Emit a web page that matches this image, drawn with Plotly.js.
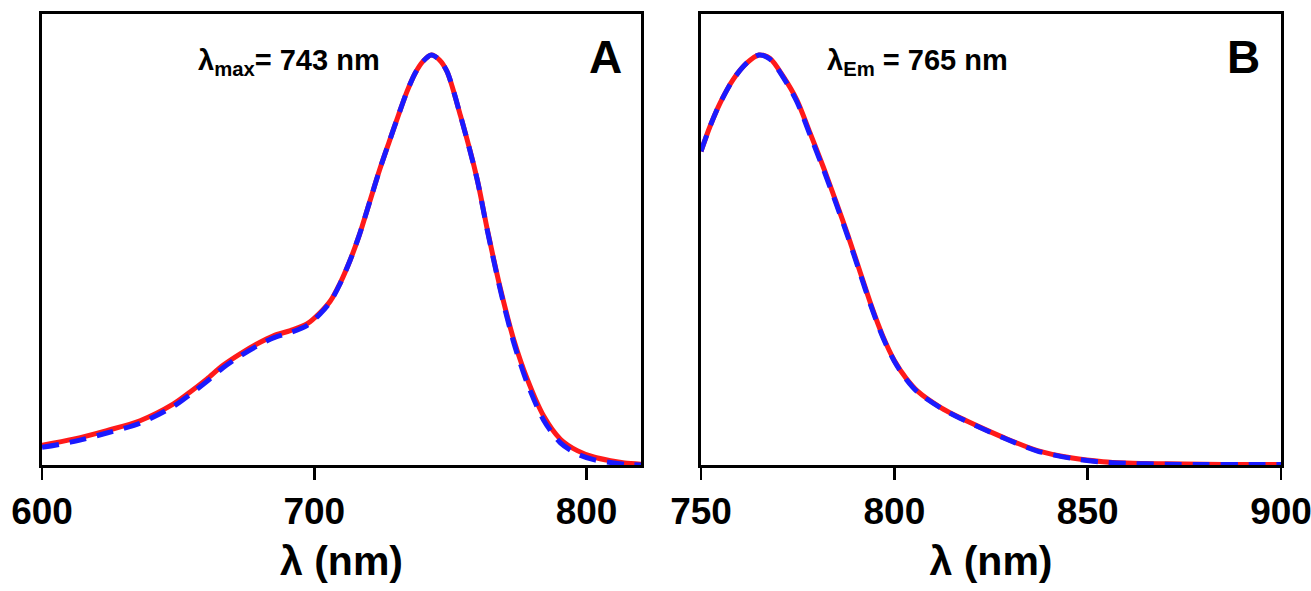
<!DOCTYPE html>
<html>
<head>
<meta charset="utf-8">
<script src="https://cdn.plot.ly/plotly-3.0.1.min.js"></script>
<style>html,body{margin:0;padding:0;background:#fff;}#chart{width:1311px;height:591px;}</style>
</head>
<body>
<div id="chart"></div>
<script>
// Panel A: absorption (normalized)
const absWavelength = [600, 611.5, 623.8, 636, 648.3, 654.4, 660.6, 666.5, 672.8, 678.9, 685, 691.2, 697.3, 702.2, 705.9, 709.6, 713.2, 716.5, 720.5, 724, 727.6, 731, 734, 737, 740, 743, 746, 748.8, 753.7, 759.8, 763.5, 768.4, 773.2, 778.2, 784.2, 790.4, 796.6, 802.6, 808.8, 814, 820];
const absRed  = [0.048, 0.063, 0.084, 0.108, 0.149, 0.178, 0.210, 0.243, 0.271, 0.295, 0.315, 0.328, 0.344, 0.372, 0.400, 0.445, 0.500, 0.560, 0.645, 0.720, 0.790, 0.855, 0.910, 0.955, 0.985, 1.000, 0.988, 0.959, 0.852, 0.698, 0.576, 0.429, 0.307, 0.210, 0.120, 0.063, 0.035, 0.0195, 0.0105, 0.005, 0.002];
const absBlue = [0.043, 0.057, 0.078, 0.102, 0.143, 0.172, 0.204, 0.237, 0.266, 0.290, 0.310, 0.323, 0.340, 0.369, 0.398, 0.444, 0.500, 0.560, 0.645, 0.720, 0.790, 0.855, 0.910, 0.955, 0.985, 1.000, 0.988, 0.959, 0.852, 0.697, 0.574, 0.425, 0.300, 0.200, 0.110, 0.054, 0.027, 0.013, 0.006, 0.002, 0.000];

// Panel B: emission (normalized)
const emWavelength = [750, 752.3, 754.9, 758.3, 761.8, 765, 767.8, 771.3, 774.8, 778.2, 781.7, 785, 788, 791, 794, 797, 800, 803, 806, 812, 817, 822, 828, 837, 846, 854, 860, 870, 880, 890, 900];
const emRed  = [0.765, 0.825, 0.882, 0.940, 0.980, 1.000, 0.992, 0.947, 0.890, 0.810, 0.725, 0.640, 0.560, 0.475, 0.390, 0.315, 0.255, 0.212, 0.180, 0.140, 0.115, 0.093, 0.068, 0.035, 0.017, 0.008, 0.005, 0.003, 0.002, 0.001, 0.001];
const emBlue = [0.765, 0.825, 0.882, 0.940, 0.980, 1.000, 0.990, 0.945, 0.886, 0.805, 0.720, 0.636, 0.556, 0.471, 0.387, 0.312, 0.253, 0.210, 0.178, 0.139, 0.114, 0.092, 0.067, 0.034, 0.016, 0.007, 0.004, 0.002, 0.001, 0.001, 0.001];

const absTicks = [600, 700, 800];
const emTicks = [750, 800, 850, 900];

const FONT = 'Arial, "Liberation Sans", sans-serif';
const redLine = {color: '#ff1a1a', width: 5, shape: 'spline', smoothing: 0.8};
const blueLine = {color: '#1a1aff', width: 5, dash: '17px,11px', shape: 'spline', smoothing: 0.8};

const traces = [
  {x: absWavelength, y: absRed, mode: 'lines', line: redLine, xaxis: 'x', yaxis: 'y', hoverinfo: 'skip'},
  {x: absWavelength, y: absBlue, mode: 'lines', line: blueLine, xaxis: 'x', yaxis: 'y', hoverinfo: 'skip'},
  {x: emWavelength, y: emRed, mode: 'lines', line: redLine, xaxis: 'x2', yaxis: 'y2', hoverinfo: 'skip'},
  {x: emWavelength, y: emBlue, mode: 'lines', line: blueLine, xaxis: 'x2', yaxis: 'y2', hoverinfo: 'skip'}
];

const W = 1311, H = 591;
const yDom = [(H - 465) / H, (H - 14) / H];

function xAxis(domain, range, ticks, anchor) {
  return {
    domain: domain, range: range, anchor: anchor,
    tickmode: 'array', tickvals: ticks,
    ticks: 'outside', ticklen: 12, tickwidth: 2.5, tickcolor: '#000',
    ticklabeloverflow: 'allow',
    showline: true, linecolor: '#000', linewidth: 3, mirror: true,
    showgrid: false, zeroline: false,
    tickfont: {family: FONT, size: 37, color: '#000', weight: 'bold'},
    title: {text: 'λ (nm)', font: {family: FONT, size: 41, color: '#000', weight: 'bold'}, standoff: 15},
    fixedrange: true
  };
}
function yAxis(anchor) {
  return {
    domain: yDom, range: [0, 1.1], anchor: anchor,
    showline: true, linecolor: '#000', linewidth: 3, mirror: true,
    showticklabels: false, ticks: '', showgrid: false, zeroline: false, fixedrange: true
  };
}

const layout = {
  width: W, height: H,
  margin: {l: 0, r: 0, t: 0, b: 0},
  paper_bgcolor: '#fff', plot_bgcolor: '#fff',
  showlegend: false,
  xaxis: xAxis([42 / W, 641 / W], [600, 820], absTicks, 'y'),
  yaxis: yAxis('x'),
  xaxis2: xAxis([701 / W, 1281 / W], [750, 900], emTicks, 'y2'),
  yaxis2: yAxis('x2'),
  annotations: [
    {xref: 'paper', yref: 'paper', x: 196 / W, y: 1 - 62 / H, xanchor: 'left', yanchor: 'middle', showarrow: false,
     text: 'λ<sub>max</sub>= 743 nm', font: {family: FONT, size: 29, color: '#000', weight: 'bold'}},
    {xref: 'paper', yref: 'paper', x: 605 / W, y: 1 - 57 / H, xanchor: 'center', yanchor: 'middle', showarrow: false,
     text: 'A', font: {family: FONT, size: 46, color: '#000', weight: 'bold'}},
    {xref: 'paper', yref: 'paper', x: 825 / W, y: 1 - 62 / H, xanchor: 'left', yanchor: 'middle', showarrow: false,
     text: 'λ<sub>Em</sub> = 765 nm', font: {family: FONT, size: 29, color: '#000', weight: 'bold'}},
    {xref: 'paper', yref: 'paper', x: 1243 / W, y: 1 - 57 / H, xanchor: 'center', yanchor: 'middle', showarrow: false,
     text: 'B', font: {family: FONT, size: 46, color: '#000', weight: 'bold'}}
  ]
};

Plotly.newPlot('chart', traces, layout, {staticPlot: true, displayModeBar: false});
</script>
</body>
</html>
